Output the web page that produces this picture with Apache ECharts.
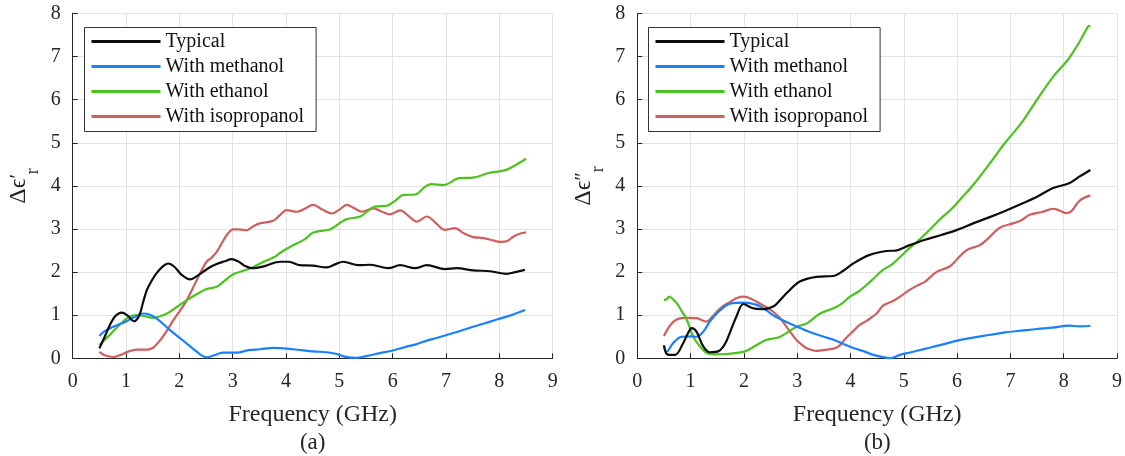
<!DOCTYPE html>
<html>
<head>
<meta charset="utf-8">
<script src="https://cdn.jsdelivr.net/npm/echarts@6/dist/echarts.min.js"></script>
<style>html,body{margin:0;padding:0;background:#fff;}#c{width:1125px;height:456px;}</style>
</head>
<body>
<div id="c"></div>
<script>
// ---- data (frequency in GHz, value) ----
const seriesNames = ['Typical', 'With methanol', 'With ethanol', 'With isopropanol'];
const xTicks = [0, 1, 2, 3, 4, 5, 6, 7, 8, 9];
const yTicks = [0, 1, 2, 3, 4, 5, 6, 7, 8];
const subLabels = ['(a)', '(b)'];
const xName = 'Frequency (GHz)';

// (a) real part
const typicalA = [[0.5,0.23],[0.6,0.5],[0.7,0.78],[0.8,0.98],[0.92,1.06],[1.02,1.0],[1.15,0.86],[1.25,1.0],[1.32,1.3],[1.39,1.58],[1.48,1.8],[1.57,1.97],[1.68,2.12],[1.79,2.2],[1.9,2.13],[2.05,1.93],[2.2,1.83],[2.32,1.9],[2.45,2.01],[2.58,2.12],[2.7,2.19],[2.85,2.25],[2.98,2.3],[3.1,2.25],[3.22,2.15],[3.36,2.09],[3.6,2.14],[3.89,2.24],[4.05,2.24],[4.26,2.16],[4.5,2.15],[4.76,2.11],[4.92,2.18],[5.07,2.24],[5.36,2.16],[5.58,2.17],[5.92,2.09],[6.14,2.16],[6.42,2.09],[6.64,2.16],[6.98,2.07],[7.2,2.09],[7.51,2.04],[7.83,2.02],[8.14,1.96],[8.3,2.0],[8.48,2.05]];
const methanolA = [[0.5,0.52],[0.6,0.63],[0.76,0.73],[0.9,0.8],[1.01,0.86],[1.15,0.95],[1.32,1.04],[1.45,1.01],[1.6,0.9],[1.82,0.66],[2.05,0.43],[2.26,0.22],[2.4,0.08],[2.51,0.02],[2.65,0.07],[2.82,0.13],[3.07,0.13],[3.3,0.19],[3.51,0.21],[3.76,0.24],[4.13,0.21],[4.51,0.16],[4.76,0.14],[4.95,0.1],[5.1,0.04],[5.32,0.01],[5.5,0.05],[5.76,0.12],[6.0,0.18],[6.26,0.27],[6.45,0.33],[6.64,0.41],[6.82,0.47],[7.01,0.54],[7.2,0.61],[7.45,0.71],[7.7,0.8],[7.95,0.9],[8.2,0.99],[8.48,1.12]];
const ethanolA = [[0.5,0.31],[0.7,0.55],[0.9,0.8],[1.05,0.96],[1.2,1.0],[1.35,0.98],[1.5,0.94],[1.65,0.98],[1.8,1.06],[1.95,1.19],[2.14,1.35],[2.3,1.47],[2.5,1.6],[2.7,1.66],[2.85,1.8],[3.01,1.95],[3.2,2.03],[3.39,2.12],[3.6,2.25],[3.8,2.36],[3.89,2.45],[4.14,2.63],[4.35,2.76],[4.51,2.92],[4.82,2.99],[5.0,3.13],[5.14,3.23],[5.39,3.29],[5.67,3.52],[5.89,3.54],[6.05,3.66],[6.2,3.79],[6.42,3.8],[6.6,3.97],[6.72,4.04],[6.95,4.02],[7.25,4.18],[7.5,4.19],[7.8,4.3],[8.1,4.36],[8.3,4.48],[8.5,4.63]];
const isopropanolA = [[0.5,0.15],[0.6,0.07],[0.76,0.03],[0.9,0.08],[1.05,0.16],[1.2,0.2],[1.35,0.2],[1.5,0.24],[1.64,0.42],[1.77,0.65],[1.89,0.89],[2.02,1.12],[2.14,1.35],[2.3,1.75],[2.4,2.0],[2.51,2.24],[2.6,2.33],[2.7,2.47],[2.8,2.68],[2.9,2.88],[3.01,2.99],[3.12,2.99],[3.26,2.97],[3.38,3.06],[3.51,3.13],[3.76,3.19],[3.89,3.33],[4.01,3.44],[4.2,3.4],[4.35,3.47],[4.51,3.56],[4.68,3.45],[4.86,3.36],[5.0,3.45],[5.14,3.56],[5.28,3.48],[5.42,3.4],[5.64,3.48],[5.8,3.4],[5.95,3.34],[6.14,3.43],[6.3,3.3],[6.45,3.17],[6.64,3.29],[6.8,3.15],[6.98,2.98],[7.17,3.02],[7.33,2.9],[7.51,2.81],[7.7,2.79],[7.9,2.73],[8.04,2.7],[8.15,2.72],[8.26,2.82],[8.38,2.89],[8.5,2.92]];

// (b) imaginary part
const typicalB = [[0.5,0.3],[0.55,0.1],[0.62,0.08],[0.71,0.08],[0.86,0.35],[0.95,0.58],[1.02,0.7],[1.11,0.62],[1.24,0.27],[1.36,0.14],[1.52,0.16],[1.6,0.25],[1.68,0.42],[1.77,0.7],[1.86,0.97],[1.99,1.26],[2.17,1.16],[2.36,1.14],[2.55,1.2],[2.68,1.35],[2.8,1.51],[3.05,1.78],[3.36,1.89],[3.68,1.91],[3.85,2.02],[4.05,2.2],[4.36,2.4],[4.68,2.49],[4.85,2.5],[5.1,2.62],[5.4,2.75],[5.7,2.86],[6.0,2.98],[6.3,3.13],[6.6,3.27],[6.9,3.42],[7.2,3.58],[7.5,3.75],[7.8,3.95],[8.1,4.06],[8.3,4.22],[8.5,4.37]];
const methanolB = [[0.5,0.3],[0.55,0.15],[0.67,0.35],[0.83,0.5],[1.0,0.51],[1.11,0.5],[1.24,0.62],[1.36,0.85],[1.49,1.04],[1.62,1.18],[1.74,1.27],[1.99,1.29],[2.24,1.24],[2.4,1.13],[2.55,1.0],[2.7,0.9],[2.86,0.81],[3.08,0.69],[3.3,0.58],[3.5,0.5],[3.68,0.43],[3.87,0.33],[4.05,0.24],[4.25,0.16],[4.43,0.08],[4.6,0.03],[4.74,0.0],[4.93,0.08],[5.1,0.13],[5.4,0.22],[5.7,0.31],[6.0,0.41],[6.3,0.48],[6.6,0.54],[6.9,0.6],[7.2,0.64],[7.5,0.68],[7.8,0.71],[8.1,0.76],[8.3,0.74],[8.5,0.75]];
const ethanolB = [[0.5,1.35],[0.55,1.37],[0.6,1.43],[0.66,1.38],[0.74,1.28],[0.83,1.1],[0.93,0.89],[1.05,0.5],[1.18,0.27],[1.3,0.12],[1.45,0.09],[1.68,0.1],[1.99,0.15],[2.12,0.22],[2.24,0.31],[2.43,0.43],[2.55,0.46],[2.68,0.5],[2.85,0.63],[2.99,0.73],[3.18,0.81],[3.3,0.92],[3.43,1.04],[3.68,1.16],[3.85,1.28],[3.99,1.43],[4.15,1.55],[4.3,1.7],[4.45,1.87],[4.61,2.05],[4.78,2.18],[4.93,2.35],[5.1,2.55],[5.3,2.76],[5.5,3.0],[5.7,3.25],[5.9,3.47],[6.1,3.74],[6.3,4.02],[6.6,4.5],[6.9,5.0],[7.2,5.45],[7.5,6.0],[7.8,6.53],[8.05,6.88],[8.15,7.05],[8.3,7.35],[8.46,7.7],[8.5,7.72]];
const isopropanolB = [[0.5,0.52],[0.58,0.7],[0.67,0.84],[0.78,0.92],[0.9,0.94],[1.11,0.93],[1.3,0.85],[1.4,0.95],[1.49,1.08],[1.62,1.22],[1.74,1.31],[1.87,1.4],[1.99,1.43],[2.1,1.4],[2.24,1.31],[2.4,1.2],[2.55,1.08],[2.68,0.93],[2.8,0.73],[2.9,0.56],[2.99,0.42],[3.1,0.3],[3.18,0.23],[3.36,0.17],[3.55,0.2],[3.7,0.23],[3.8,0.3],[3.9,0.45],[4.05,0.63],[4.18,0.78],[4.3,0.87],[4.49,1.04],[4.61,1.22],[4.8,1.33],[4.93,1.43],[5.1,1.58],[5.24,1.68],[5.4,1.78],[5.61,2.0],[5.86,2.13],[6.0,2.3],[6.18,2.51],[6.43,2.63],[6.6,2.8],[6.8,3.03],[7.05,3.13],[7.2,3.2],[7.36,3.33],[7.61,3.4],[7.8,3.47],[7.92,3.43],[8.05,3.37],[8.15,3.42],[8.3,3.66],[8.5,3.78]];

const colors = ['#0d0d0d', '#1a80ff', '#4cc21e', '#cf5f5f'];
const FONT = 'Liberation Serif, Times New Roman, serif';
const TXT = '#262626';

const chart = echarts.init(document.getElementById('c'), null, {renderer: 'canvas'});

function xAxisCfg(i) {
  return {
    type: 'value', gridIndex: i, min: xTicks[0], max: xTicks[xTicks.length - 1], interval: 1,
    axisLine: {show: true, onZero: false, lineStyle: {color: TXT, width: 1}},
    axisTick: {show: true, inside: true, length: 5, lineStyle: {color: TXT}},
    splitLine: {show: true, lineStyle: {color: '#e3e3e3', width: 1}},
    axisLabel: {fontFamily: FONT, fontSize: 20, color: TXT, margin: 13},
    name: xName, nameLocation: 'middle', nameGap: 44,
    nameTextStyle: {fontFamily: FONT, fontSize: 24, color: TXT}
  };
}
function yAxisCfg(i, prime) {
  return {
    type: 'value', gridIndex: i, min: yTicks[0], max: yTicks[yTicks.length - 1], interval: 1,
    axisLine: {show: true, lineStyle: {color: TXT, width: 1}},
    axisTick: {show: true, inside: true, length: 5, lineStyle: {color: TXT}},
    splitLine: {show: true, lineStyle: {color: '#e3e3e3', width: 1}},
    axisLabel: {fontFamily: FONT, fontSize: 20, color: TXT, margin: 12},
    name: '{a|Δϵ}{b|' + prime + '}{c|r}',
    nameLocation: 'middle', nameRotate: 90, nameGap: 30,
    nameTextStyle: {
      fontFamily: FONT, color: TXT,
      rich: {
        a: {fontFamily: FONT, fontSize: 24, color: TXT, lineHeight: 48},
        b: {fontFamily: FONT, fontSize: 20, color: TXT, lineHeight: 48, verticalAlign: 'middle'},
        c: {fontFamily: FONT, fontSize: 18, color: TXT, lineHeight: 16, verticalAlign: 'bottom'}
      }
    }
  };
}
function seriesFor(i, datasets) {
  return datasets.map((d, k) => ({
    type: 'line', name: seriesNames[k], xAxisIndex: i, yAxisIndex: i,
    data: d, smooth: 0.35, symbol: 'none', showSymbol: false,
    lineStyle: {color: colors[k], width: 2.2}, itemStyle: {color: colors[k]},
    z: 2 + (3 - k)
  }));
}
function legendCfg(left) {
  return {
    data: seriesNames.map(n => ({name: n, icon: 'rect'})),
    orient: 'vertical', left: left, top: 27.5,
    itemWidth: 69, itemHeight: 3, itemGap: 5,
    padding: [4, 12, 5, 7],
    borderColor: '#333', borderWidth: 1, backgroundColor: '#fff',
    textStyle: {fontFamily: FONT, fontSize: 20, color: '#111', lineHeight: 20},
    selectedMode: false
  };
}

const gridL = {left: 72.7, top: 13.5, width: 480, height: 344.8};
const gridR = {left: 637.3, top: 13.5, width: 480, height: 344.8};

chart.setOption({
  animation: false,
  backgroundColor: '#fff',
  grid: [gridL, gridR],
  xAxis: [xAxisCfg(0), xAxisCfg(1)],
  yAxis: [yAxisCfg(0, '′'), yAxisCfg(1, '″')],
  legend: [legendCfg(84.5), legendCfg(648.5)],
  series: seriesFor(0, [typicalA, methanolA, ethanolA, isopropanolA])
    .concat(seriesFor(1, [typicalB, methanolB, ethanolB, isopropanolB])),
  graphic: [
    {type: 'text', x: gridL.left + gridL.width / 2, y: 443,
     style: {text: subLabels[0], font: '23px ' + FONT, fill: TXT, textAlign: 'center', textVerticalAlign: 'middle'}},
    {type: 'text', x: gridR.left + gridR.width / 2, y: 443,
     style: {text: subLabels[1], font: '23px ' + FONT, fill: TXT, textAlign: 'center', textVerticalAlign: 'middle'}}
  ]
});
</script>
</body>
</html>
